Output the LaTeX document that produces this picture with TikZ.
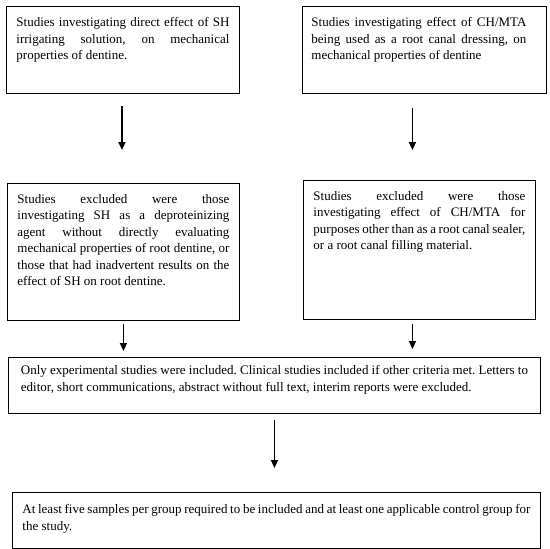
\documentclass[tikz,border=0pt]{standalone}
\usepackage{fontspec}
\setmainfont{Liberation Serif}
\usetikzlibrary{arrows.meta}
\frenchspacing

\tikzset{
  critbox/.style={draw, line width=0.9pt, anchor=north west, inner xsep=10pt, inner ysep=11pt,
    font=\fontsize{13}{16.5}\selectfont},
  flowarrow/.style={line width=1.5pt, -{Triangle[length=8pt,width=7pt]}}
}

\begin{document}
\begin{tikzpicture}[x=1pt,y=-1pt]
	\useasboundingbox (0,0) rectangle (550,549);

	% first criteria
	\node[critbox] (shdirect) at (6,6) {\parbox[t][65pt][t]{213pt}{Studies investigating direct effect of SH\linebreak irrigating solution, on mechanical\linebreak properties of dentine.}};
	\node[critbox, inner xsep=9pt] (chdressing) at (302,6) {\parbox[t][65pt][t]{226pt}{\rightskip=11pt Studies investigating effect of CH/MTA\linebreak being used as a root canal dressing, on\linebreak mechanical properties of dentine}};

	% exclusions
	\node[critbox] (shexcl) at (7,183) {\parbox[t][115pt][t]{212pt}{Studies excluded were those\linebreak investigating SH as a deproteinizing\linebreak agent without directly evaluating\linebreak mechanical properties of root dentine, or\linebreak those that had inadvertent results on the\linebreak effect of SH on root dentine.}};
	\node[critbox] (chexcl) at (303,180) {\parbox[t][117pt][t]{212pt}{Studies excluded were those\linebreak investigating effect of CH/MTA for\linebreak purposes other than as a root canal sealer,\linebreak or a root canal filling material.}};

	% study type
	\node[critbox, inner xsep=12.5pt, inner ysep=8pt] (studytype) at (8,357) {\parbox[t][40pt][t]{507pt}{Only experimental studies were included. Clinical studies included if other criteria met. Letters to\linebreak editor, short communications, abstract without full text, interim reports were excluded.}};

	% samples
	\node[critbox, inner ysep=12pt] (samples) at (12,492) {\parbox[t][32pt][t]{508pt}{At least five samples per group required to be included and at least one applicable control group for\linebreak the study.}};

	% arrows
	\draw[flowarrow, shorten <=12pt, shorten >=33pt] ([xshift=-1pt]shdirect.south) -- ([xshift=-1pt]shdirect.south |- shexcl.north);
	\draw[flowarrow, shorten <=14pt, shorten >=30pt] ([xshift=-12pt]chdressing.south) -- ([xshift=-12pt]chdressing.south |- chexcl.north);
	\draw[flowarrow, shorten <=3pt, shorten >=6pt] (shexcl.south) -- (shexcl.south |- studytype.north);
	\draw[flowarrow, shorten <=4pt, shorten >=8pt] ([xshift=-7pt]chexcl.south) -- ([xshift=-7pt]chexcl.south |- studytype.north);
	\draw[flowarrow, shorten <=6pt, shorten >=24pt] (studytype.south) -- (studytype.south |- samples.north);
\end{tikzpicture}
\end{document}
